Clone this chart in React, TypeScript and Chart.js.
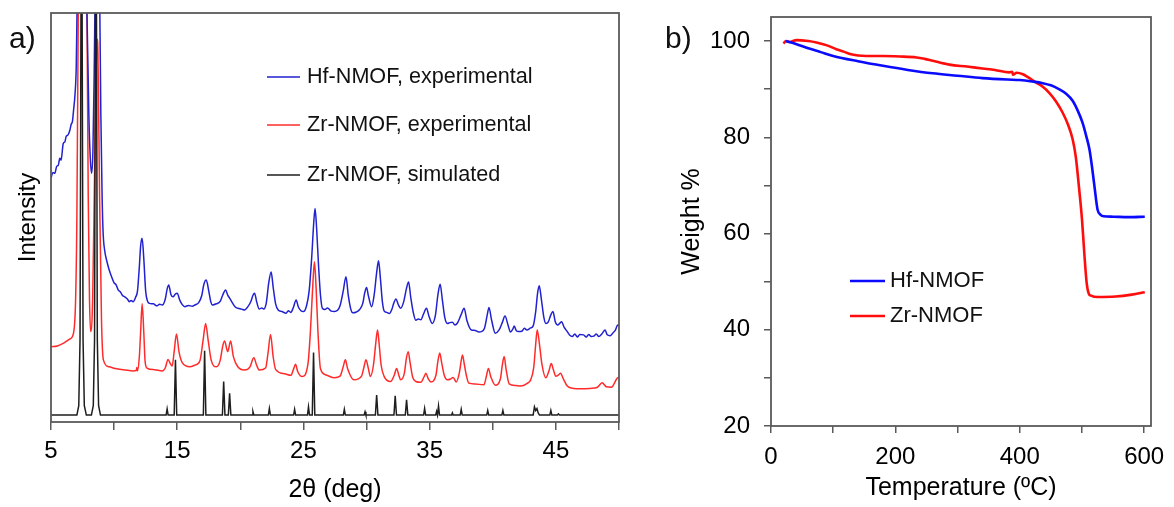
import React, { useEffect, useRef } from "react";
import { Chart, registerables } from "chart.js";

Chart.register(...registerables);

const FONT = "'Liberation Sans', Arial, Helvetica, sans-serif";

// ---------------- Panel a) : powder XRD ----------------
const xrdSeriesLabels = ["Hf-NMOF, experimental", "Zr-NMOF, experimental", "Zr-NMOF, simulated"];
const xrdTickLabels = [5, 15, 25, 35, 45];

// [2θ (deg), intensity (a.u., stacked)]
const hfPattern: [number, number][] = [
  [5.0, 59.6], [5.15, 61], [5.3, 60.8], [5.45, 62.5], [5.58, 62.8], [5.7, 64.5], [5.8, 64.0], [5.97, 68.1],
  [6.1, 68.5], [6.2, 69.8], [6.35, 70.2], [6.5, 71.4], [6.6, 72.8], [6.7, 73.5], [6.79, 76.3], [6.9, 80],
  [7.0, 86.9], [7.06, 100], [7.2, 130], [7.45, 170], [7.7, 130], [7.85, 100], [8.0, 75], [8.12, 64],
  [8.22, 60.8], [8.32, 66], [8.42, 85], [8.48, 100], [8.67, 170], [8.87, 100], [8.95, 75], [9.05, 55],
  [9.13, 46.2], [9.25, 42], [9.4, 39.6], [9.6, 37.3], [9.8, 35.5], [10.0, 34.0], [10.15, 33.6], [10.32, 32.3],
  [10.5, 31.8], [10.65, 31.0], [10.85, 30.6], [11.05, 30.1], [11.2, 29.4], [11.35, 29.7], [11.5, 29.4],
  [11.7, 30.5], [11.85, 32], [12.0, 38], [12.1, 43], [12.22, 44.9], [12.35, 40], [12.5, 32], [12.65, 29.5],
  [12.8, 29.0], [13.1, 28.9], [13.4, 28.4], [13.6, 28.8], [13.82, 28.6], [14.05, 30], [14.2, 32.5],
  [14.33, 33.5], [14.5, 31.2], [14.67, 30.6], [14.85, 31.3], [15.0, 31.5], [15.2, 29.8], [15.4, 28.7],
  [15.6, 28.2], [15.9, 28.5], [16.2, 28.3], [16.4, 28.6], [16.7, 29.2], [16.95, 31], [17.1, 33.5],
  [17.3, 34.7], [17.5, 32], [17.65, 29.5], [17.8, 28.6], [18.1, 28.9], [18.4, 29.5], [18.6, 31],
  [18.83, 32.3], [19.0, 31], [19.15, 30.3], [19.4, 29], [19.6, 28.1], [19.8, 27.8], [20.1, 27.6],
  [20.34, 27.4], [20.6, 28.2], [20.85, 29.6], [21.0, 31], [21.13, 31.5], [21.3, 29.3], [21.5, 27.6],
  [21.7, 27.9], [21.85, 27.6], [22.05, 29], [22.25, 34], [22.44, 36.7], [22.6, 33], [22.8, 28.8],
  [23.0, 27.4], [23.3, 27.0], [23.63, 26.6], [23.8, 27.2], [24.0, 26.8], [24.2, 28], [24.42, 29.8],
  [24.6, 28.1], [24.8, 27.2], [25.0, 27.0], [25.25, 28.5], [25.45, 32], [25.65, 40], [25.8, 48],
  [25.92, 52.2], [26.05, 47], [26.2, 38], [26.35, 31], [26.5, 27.8], [26.7, 27.5], [26.9, 27.9],
  [27.2, 27.1], [27.45, 27.0], [27.7, 27.3], [27.9, 28.4], [28.15, 32], [28.37, 35.5], [28.55, 31],
  [28.75, 27.6], [28.9, 26.7], [29.2, 26.9], [29.45, 27.5], [29.7, 29], [29.85, 31.5], [30.0, 32.9],
  [30.15, 30.8], [30.4, 28.2], [30.6, 31], [30.8, 36.5], [30.95, 39.4], [31.1, 35], [31.25, 29.5],
  [31.4, 27.1], [31.6, 26.8], [31.8, 26.5], [32.0, 27.5], [32.15, 29], [32.33, 30.1], [32.5, 28.8],
  [32.7, 27.8], [32.95, 29.5], [33.15, 32.5], [33.33, 34.2], [33.5, 30.5], [33.7, 26.8], [33.9, 24.9],
  [34.1, 25.2], [34.3, 25.0], [34.5, 26.3], [34.75, 27.8], [34.95, 25.8], [35.2, 24.1], [35.45, 26],
  [35.65, 31], [35.83, 33.7], [36.0, 30], [36.2, 25.5], [36.4, 24.1], [36.6, 24.3], [36.8, 24.4],
  [37.0, 23.7], [37.2, 24.2], [37.5, 26.3], [37.73, 27.8], [37.95, 24.8], [38.3, 22.5], [38.6, 22.4],
  [38.9, 22.0], [39.1, 22.1], [39.35, 23], [39.55, 26], [39.7, 28.0], [39.9, 25], [40.2, 21.7],
  [40.5, 22.5], [40.75, 24.3], [40.97, 25.9], [41.2, 23.8], [41.4, 22.0], [41.6, 22.8], [41.7, 23.5],
  [41.85, 22.4], [42.05, 22.1], [42.3, 22.2], [42.5, 22.9], [42.7, 22.5], [43.0, 23.0], [43.2, 23.5],
  [43.4, 27], [43.55, 31.5], [43.68, 33.3], [43.85, 30], [44.05, 25.5], [44.2, 24.1], [44.4, 24.5],
  [44.6, 26.2], [44.77, 27.0], [44.95, 24.5], [45.15, 23.7], [45.3, 24.1], [45.45, 24.5], [45.65, 23.2],
  [45.9, 22.1], [46.1, 21.2], [46.3, 20.9], [46.5, 21.5], [46.7, 20.8], [46.9, 21.4], [47.2, 21.3],
  [47.4, 20.8], [47.6, 21.4], [47.8, 20.9], [48.0, 21.0], [48.2, 21.5], [48.4, 20.9], [48.65, 21.6],
  [48.9, 22.5], [49.05, 21.4], [49.3, 21.1], [49.5, 21.7], [49.7, 22.4], [49.9, 23.7], [50.0, 23.5],
];

const zrPattern: [number, number][] = [
  [5.0, 18.4], [5.5, 18.6], [6.0, 19.3], [6.5, 20.3], [6.8, 22], [6.95, 30], [7.05, 50], [7.16, 100],
  [7.5, 160], [7.85, 100], [7.95, 55], [8.05, 30], [8.14, 22.1], [8.3, 30], [8.45, 60], [8.6, 90],
  [8.66, 93.6], [8.72, 90], [8.85, 55], [9.0, 25], [9.15, 15.2], [9.6, 13.5], [10.2, 13.0], [10.9, 12.7],
  [11.5, 12.5], [11.75, 12.6], [11.8, 13.3], [11.85, 12.5], [12.0, 16], [12.1, 22], [12.22, 28.9],
  [12.35, 22], [12.45, 15], [12.6, 13.2], [13.2, 12.8], [13.82, 12.5], [14.05, 13.2], [14.27, 15.3],
  [14.45, 14.3], [14.6, 13.7], [14.75, 17], [14.94, 21.5], [15.15, 17], [15.4, 14.5], [16.0, 13.5],
  [16.4, 13.9], [16.8, 15], [17.05, 20], [17.25, 24.1], [17.45, 20], [17.7, 15], [18.1, 13.5],
  [18.4, 15], [18.6, 18.5], [18.75, 19.8], [19.0, 17.2], [19.23, 19.8], [19.45, 16], [19.8, 13.5],
  [20.34, 12.7], [20.75, 13.4], [21.07, 15.7], [21.3, 13.8], [21.5, 12.7], [22.0, 13.2], [22.2, 17],
  [22.39, 21.4], [22.6, 16], [22.8, 12.8], [23.5, 11.8], [24.0, 11.4], [24.2, 12.8], [24.37, 14.1],
  [24.55, 12.3], [24.9, 11.1], [25.35, 14], [25.55, 22], [25.75, 34], [25.87, 39.2], [26.0, 33],
  [26.15, 22], [26.35, 13], [26.8, 11.5], [27.45, 10.8], [27.9, 11.2], [28.15, 13.5], [28.32, 15.2],
  [28.5, 13], [29.0, 10.3], [29.6, 11.2], [29.8, 13.5], [29.95, 15.2], [30.15, 13], [30.3, 11.1],
  [30.55, 14], [30.72, 19], [30.87, 22.5], [31.0, 19], [31.15, 14], [31.4, 11.1], [31.9, 9.9],
  [32.2, 11.5], [32.38, 13.1], [32.55, 11.5], [32.7, 10.3], [33.0, 12], [33.15, 15.5], [33.3, 17.2],
  [33.45, 14.5], [33.65, 11], [33.9, 9.9], [34.3, 9.7], [34.55, 11], [34.7, 11.9], [34.9, 10.5],
  [35.1, 9.8], [35.5, 11.5], [35.65, 14.8], [35.8, 16.9], [35.95, 14.5], [36.15, 11.5], [36.4, 10.3],
  [36.65, 10.5], [36.86, 10.9], [37.1, 9.8], [37.35, 12], [37.5, 15], [37.6, 16.4], [37.75, 14],
  [37.9, 11.5], [38.1, 9.5], [38.6, 9.3], [39.3, 9.1], [39.5, 11.3], [39.65, 13.1], [39.85, 11],
  [40.2, 9.0], [40.6, 10.5], [40.75, 13.8], [40.9, 16.0], [41.05, 13], [41.3, 9.3], [41.8, 8.9],
  [42.2, 8.8], [42.7, 9.4], [43.0, 10.3], [43.25, 13.5], [43.4, 19], [43.52, 22.5], [43.7, 19],
  [43.9, 14], [44.2, 10.8], [44.45, 12.5], [44.63, 14.3], [44.8, 12.8], [45.0, 11.2], [45.2, 11.5],
  [45.37, 11.9], [45.6, 10.5], [45.9, 8.8], [46.4, 8.2], [47.0, 8.1], [47.7, 8.2], [48.3, 8.5],
  [48.66, 9.6], [49.0, 8.6], [49.4, 8.5], [49.85, 10.7], [50.0, 11],
];

const simPattern: [number, number][] = [
  [5.0, 1.7], [7.05, 1.7], [7.2, 4], [7.3, 20], [7.42, 150], [7.54, 20], [7.64, 4], [7.8, 1.7],
  [8.2, 1.7], [8.35, 4], [8.45, 20], [8.56, 150], [8.67, 20], [8.77, 4], [8.92, 1.7],
  [14.12, 1.7], [14.2, 3.2], [14.28, 1.7],
  [14.76, 1.7], [14.86, 15.2], [14.96, 1.7],
  [17.07, 1.7], [17.17, 17.4], [17.27, 1.7],
  [18.58, 1.7], [18.68, 9.9], [18.78, 1.7],
  [19.05, 1.7], [19.15, 7.0], [19.25, 1.7],
  [20.93, 1.7], [21.0, 2.5], [21.07, 1.7],
  [22.22, 1.7], [22.3, 3.3], [22.38, 1.7],
  [24.22, 1.7], [24.3, 3.1], [24.38, 1.7],
  [25.32, 1.7], [25.4, 3.7], [25.48, 1.7],
  [25.7, 1.7], [25.8, 17.0], [25.9, 1.7],
  [28.16, 1.7], [28.24, 3.1], [28.32, 1.7],
  [29.81, 1.7], [29.88, 2.5], [29.95, 1.7],
  [30.7, 1.7], [30.8, 6.6], [30.9, 1.7],
  [32.17, 1.7], [32.27, 6.4], [32.37, 1.7],
  [33.07, 1.7], [33.17, 5.4], [33.27, 1.7],
  [34.52, 1.7], [34.6, 3.3], [34.68, 1.7],
  [35.48, 1.7], [35.55, 2.6], [35.62, 1.7], [35.7, 3.9], [35.78, 1.7],
  [36.74, 1.7], [36.8, 2.2], [36.86, 1.7],
  [37.42, 1.7], [37.5, 3.1], [37.58, 1.7],
  [39.52, 1.7], [39.6, 2.8], [39.68, 1.7],
  [40.72, 1.7], [40.8, 2.8], [40.88, 1.7],
  [43.2, 1.7], [43.3, 3.7], [43.4, 2.8], [43.5, 3.3], [43.6, 2.2], [43.7, 1.7],
  [44.52, 1.7], [44.6, 2.8], [44.68, 1.7],
  [45.12, 1.7], [45.2, 2.0], [45.28, 1.7],
  [50.0, 1.7],
];

// ---------------- Panel b) : TGA ----------------
const tgaSeriesLabels = ["Hf-NMOF", "Zr-NMOF"];
const tgaTempTickLabels = [0, 200, 400, 600];
const tgaWeightTickLabels = [20, 40, 60, 80, 100];

// [temperature (ºC), weight %]
const hfTga: [number, number][] = [
  [24, 100], [40, 99.4], [60, 98.5], [80, 97.7], [100, 96.9], [140, 95.8], [180, 94.85], [220, 94.0],
  [260, 93.3], [300, 92.8], [340, 92.3], [380, 92.0], [400, 91.9], [420, 91.6], [437, 91.25],
  [450, 90.8], [463, 90.0], [475, 89.0], [485, 87.6], [493, 85.6], [501, 83], [507, 80.2], [512, 77.5],
  [516, 74], [520, 69.9], [525, 65], [530, 63.9], [535, 63.6], [550, 63.5], [575, 63.4], [601, 63.5],
];

const zrTga: [number, number][] = [
  [20, 99.5], [24, 100], [30, 99.8], [41, 100.2], [60, 100.0], [73, 99.7], [90, 99.1], [105, 98.3],
  [117, 97.8], [127, 97.3], [140, 97.0], [153, 96.9], [180, 96.9], [207, 96.8], [234, 96.6],
  [247, 96.3], [260, 95.9], [287, 95.1], [315, 94.7], [340, 94.3], [360, 94.0], [383, 93.5],
  [388, 93.6], [389, 93.0], [395, 93.4], [405, 93.1], [413, 92.5], [426, 91.4], [437, 90.5],
  [447, 89.3], [458, 87.5], [469, 85.1], [477, 82.8], [485, 79.6], [490, 76.0], [495, 69.9],
  [500, 63.0], [503.7, 56], [507.6, 49.7], [511, 47.5], [514.5, 47.1], [525, 46.8], [554, 46.9],
  [580, 47.3], [601, 47.8],
];

const AXIS_GRAY = "#5a5a5a";

function toPoints(arr: [number, number][]) {
  return arr.map(([x, y]) => ({ x, y }));
}

function noEdgePadding(s: any) {
  s.paddingTop = 0;
  s.paddingBottom = 0;
  s.paddingLeft = 0;
  s.paddingRight = 0;
}

function framePlugin(color: string, width: number) {
  return {
    id: "frame",
    afterDraw(chart: any) {
      const { ctx, chartArea: a } = chart;
      ctx.save();
      ctx.strokeStyle = color;
      ctx.lineWidth = width;
      ctx.strokeRect(a.left, a.top, a.right - a.left, a.bottom - a.top);
      ctx.restore();
    },
  };
}

function insideLegendPlugin(cfg: {
  x0: number; x1: number; textX: number; rows: number[]; font: string; lineWidth: number;
}) {
  return {
    id: "insideLegend",
    afterDraw(chart: any) {
      const ctx = chart.ctx;
      ctx.save();
      chart.data.datasets.forEach((ds: any, i: number) => {
        const y = cfg.rows[i];
        if (y === undefined) return;
        ctx.strokeStyle = ds.borderColor;
        ctx.lineWidth = cfg.lineWidth;
        ctx.beginPath();
        ctx.moveTo(cfg.x0, y);
        ctx.lineTo(cfg.x1, y);
        ctx.stroke();
        ctx.fillStyle = "#111";
        ctx.font = cfg.font;
        ctx.textAlign = "left";
        ctx.textBaseline = "middle";
        ctx.fillText(ds.label, cfg.textX, y);
      });
      ctx.restore();
    },
  };
}

function panelLabelPlugin(text: string, x: number, y: number) {
  return {
    id: "panelLabel",
    afterDraw(chart: any) {
      const ctx = chart.ctx;
      ctx.save();
      ctx.fillStyle = "#111";
      ctx.font = `30px ${FONT}`;
      ctx.textAlign = "left";
      ctx.textBaseline = "alphabetic";
      ctx.fillText(text, x, y);
      ctx.restore();
    },
  };
}

export default function App() {
  const leftRef = useRef<HTMLCanvasElement>(null);
  const rightRef = useRef<HTMLCanvasElement>(null);

  useEffect(() => {
    if (!leftRef.current || !rightRef.current) return;

    const left = new Chart(leftRef.current, {
      type: "line",
      data: {
        datasets: [
          {
            label: xrdSeriesLabels[0],
            data: toPoints(hfPattern),
            borderColor: "#2121cf",
            borderWidth: 1.5,
            pointRadius: 0,
            cubicInterpolationMode: "monotone",
            order: 1,
          },
          {
            label: xrdSeriesLabels[1],
            data: toPoints(zrPattern),
            borderColor: "#ff2b2b",
            borderWidth: 1.5,
            pointRadius: 0,
            cubicInterpolationMode: "monotone",
            order: 2,
          },
          {
            label: xrdSeriesLabels[2],
            data: toPoints(simPattern),
            borderColor: "#1e1e1e",
            borderWidth: 1.5,
            pointRadius: 0,
            tension: 0,
            order: 0,
          },
        ],
      } as any,
      options: {
        responsive: false,
        animation: false,
        devicePixelRatio: 1,
        layout: { padding: { left: 0, top: 13, right: 555, bottom: 0 } },
        plugins: { legend: { display: false }, tooltip: { enabled: false } },
        scales: {
          x: {
            type: "linear",
            min: 5,
            max: 50,
            afterFit: (s: any) => { s.height = 85; noEdgePadding(s); },
            ticks: {
              stepSize: 5,
              autoSkip: false,
              maxRotation: 0,
              padding: 7,
              color: "#000",
              font: { family: FONT, size: 24 },
              callback: (v: any) => (xrdTickLabels.includes(Number(v)) ? String(v) : ""),
            },
            grid: { drawOnChartArea: false, drawTicks: true, tickLength: 8, color: AXIS_GRAY, lineWidth: 1.5 },
            border: { display: false },
            title: {
              display: true,
              text: "2θ (deg)",
              color: "#000",
              font: { family: FONT, size: 25 },
              padding: { top: 0, bottom: 2 },
            },
          },
          y: {
            type: "linear",
            min: 0,
            max: 100,
            afterFit: (s: any) => { s.width = 51; noEdgePadding(s); },
            ticks: { display: false },
            grid: { display: false },
            border: { display: false },
            title: {
              display: true,
              text: "Intensity",
              color: "#000",
              font: { family: FONT, size: 24 },
              padding: { top: 14, bottom: 0 },
            },
          },
        },
      } as any,
      plugins: [
        framePlugin(AXIS_GRAY, 1.8),
        insideLegendPlugin({ x0: 267, x1: 300, textX: 307, rows: [77, 125, 175], font: `21.6px ${FONT}`, lineWidth: 1.5 }),
        panelLabelPlugin("a)", 9, 48),
      ],
    });

    const right = new Chart(rightRef.current, {
      type: "line",
      data: {
        datasets: [
          {
            label: tgaSeriesLabels[0],
            data: toPoints(hfTga),
            borderColor: "#0a0aff",
            borderWidth: 2.6,
            pointRadius: 0,
            cubicInterpolationMode: "monotone",
          },
          {
            label: tgaSeriesLabels[1],
            data: toPoints(zrTga),
            borderColor: "#ff0d0d",
            borderWidth: 2.6,
            pointRadius: 0,
            cubicInterpolationMode: "monotone",
          },
        ],
      } as any,
      options: {
        responsive: false,
        animation: false,
        devicePixelRatio: 1,
        layout: { padding: { left: 660, top: 17, right: 23, bottom: 0 } },
        plugins: { legend: { display: false }, tooltip: { enabled: false } },
        scales: {
          x: {
            type: "linear",
            min: 0,
            max: 611,
            afterFit: (s: any) => { s.height = 81; noEdgePadding(s); },
            ticks: {
              stepSize: 100,
              includeBounds: false,
              autoSkip: false,
              maxRotation: 0,
              padding: 10,
              color: "#000",
              font: { family: FONT, size: 24 },
              callback: (v: any) => (tgaTempTickLabels.includes(Number(v)) ? String(v) : ""),
            },
            grid: { drawOnChartArea: false, drawTicks: true, tickLength: 7, color: AXIS_GRAY, lineWidth: 1.5 },
            border: { display: false },
            title: {
              display: true,
              text: "Temperature (ºC)",
              color: "#000",
              font: { family: FONT, size: 25 },
              padding: { top: 0, bottom: 4 },
            },
          },
          y: {
            type: "linear",
            min: 20,
            max: 105,
            afterFit: (s: any) => { s.width = 111; noEdgePadding(s); },
            ticks: {
              stepSize: 10,
              includeBounds: false,
              autoSkip: false,
              padding: 14,
              color: "#000",
              font: { family: FONT, size: 24 },
              callback: (v: any) => (tgaWeightTickLabels.includes(Number(v)) ? String(v) : ""),
            },
            grid: { drawOnChartArea: false, drawTicks: true, tickLength: 7, color: AXIS_GRAY, lineWidth: 1.5 },
            border: { display: false },
            title: {
              display: true,
              text: "Weight %",
              color: "#000",
              font: { family: FONT, size: 25 },
              padding: { top: 17, bottom: 0 },
            },
          },
        },
      } as any,
      plugins: [
        framePlugin(AXIS_GRAY, 1.8),
        insideLegendPlugin({ x0: 850, x1: 885, textX: 890, rows: [281, 316], font: `22px ${FONT}`, lineWidth: 2.6 }),
        panelLabelPlugin("b)", 665, 48),
      ],
    });

    return () => {
      left.destroy();
      right.destroy();
    };
  }, []);

  return (
    <div style={{ position: "absolute", left: 0, top: 0, width: 1174, height: 507, background: "#fff", overflow: "hidden" }}>
      <canvas ref={leftRef} width={1174} height={507} style={{ position: "absolute", left: 0, top: 0 }} />
      <canvas ref={rightRef} width={1174} height={507} style={{ position: "absolute", left: 0, top: 0 }} />
    </div>
  );
}
